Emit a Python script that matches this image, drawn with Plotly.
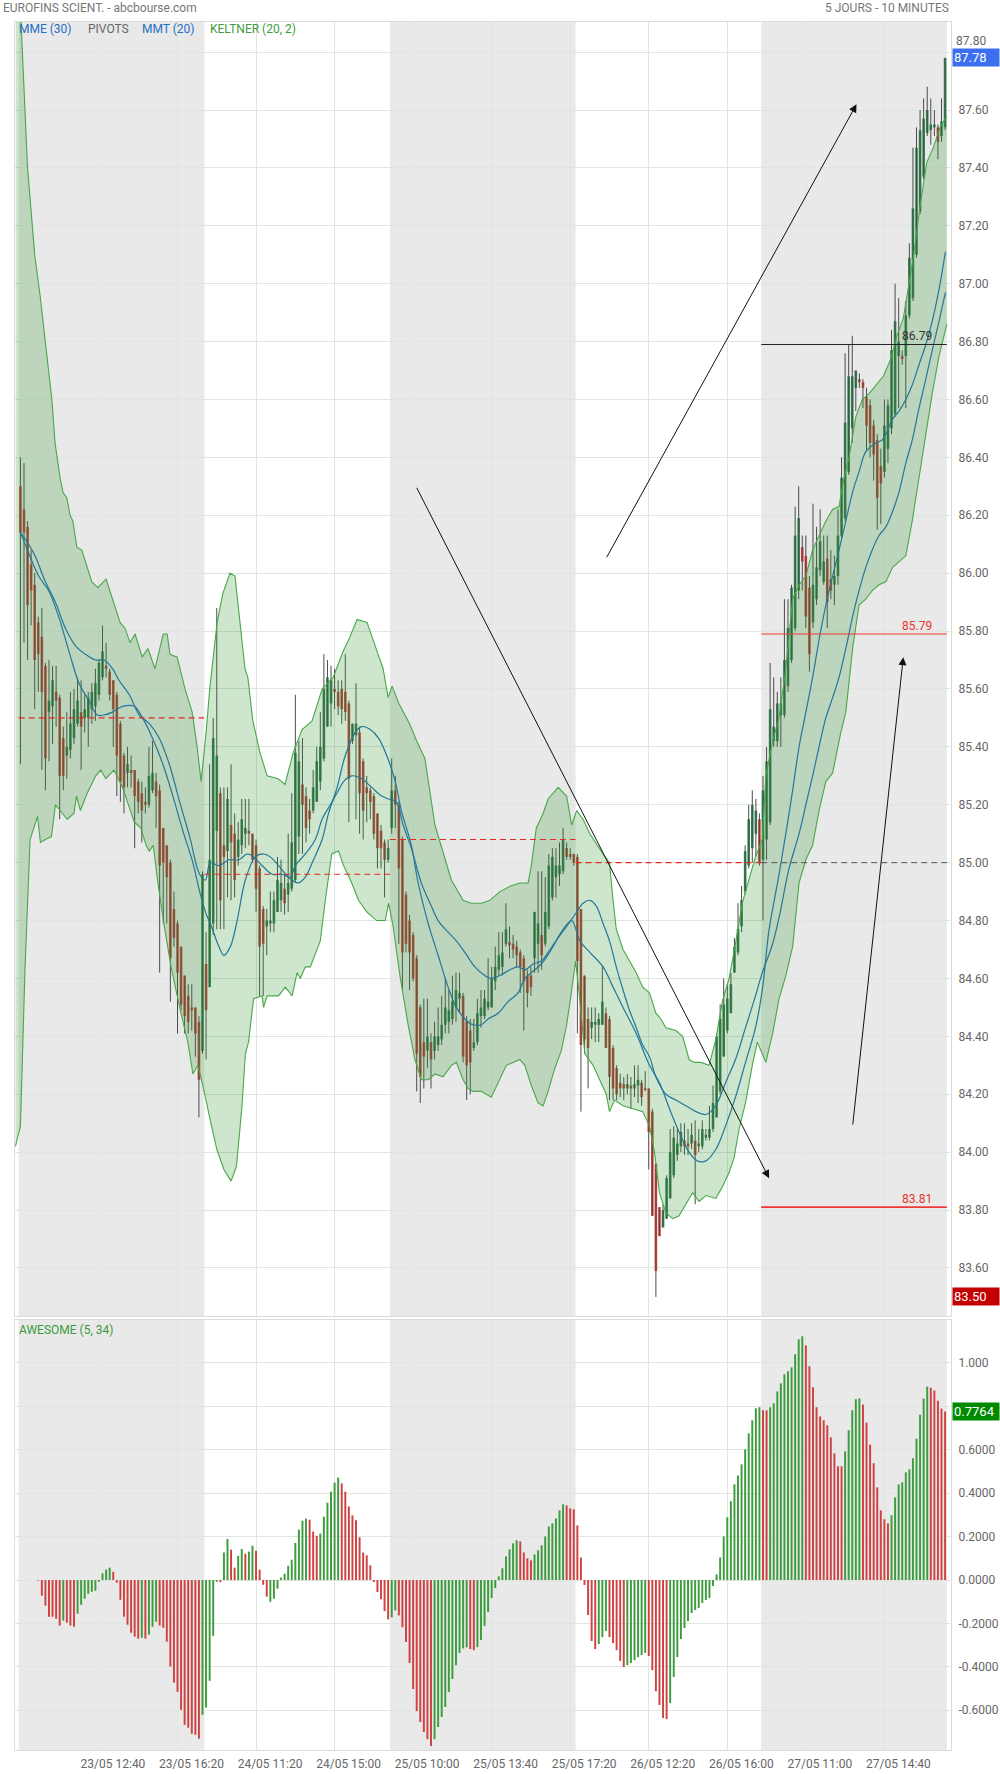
import plotly.graph_objects as go

# ---------------- data ----------------
BARS_PER_DAY = 52
tick_idx = [22, 44, 66, 88, 110, 132, 154, 176, 198, 220, 242]
tick_labels = ["23/05 12:40", "23/05 16:20", "24/05 11:20", "24/05 15:00", "25/05 10:00",
               "25/05 13:40", "25/05 17:20", "26/05 12:20", "26/05 16:00", "27/05 11:00", "27/05 14:40"]

opens = [86.30, 86.22, 86.16, 86.03, 85.96, 85.83, 85.78, 85.68, 85.52, 85.54,
         85.59, 85.57, 85.43, 85.37, 85.39, 85.43, 85.48, 85.52, 85.50, 85.50,
         85.53, 85.54, 85.58, 85.64, 85.68, 85.66, 85.63, 85.58, 85.48, 85.37,
         85.31, 85.32, 85.32, 85.28, 85.24, 85.21, 85.20, 85.25, 85.28, 85.25,
         85.12, 85.06, 85.00, 84.84, 84.79, 84.71, 84.61, 84.54, 84.50, 84.50,
         84.45, 84.35,
         84.65, 84.57, 84.79, 85.11, 85.24, 85.06, 85.04, 85.13, 85.10, 85.02,
         85.06, 85.10, 85.11, 85.10, 85.06, 84.98, 84.84, 84.78, 84.79, 84.79,
         84.83, 84.87, 84.91, 84.89, 84.91, 84.94, 85.09, 85.27, 85.23, 85.18,
         85.18, 85.21, 85.28, 85.36, 85.47, 85.55, 85.60, 85.59, 85.60, 85.59,
         85.55, 85.42, 85.44, 85.45, 85.35, 85.26, 85.25, 85.23, 85.17, 85.11,
         85.07, 85.01,
         85.12, 85.25, 85.20, 85.08, 84.89, 84.80, 84.75, 84.67, 84.50, 84.38,
         84.35, 84.38, 84.35, 84.37, 84.39, 84.44, 84.45, 84.46, 84.50, 84.53,
         84.54, 84.45, 84.42, 84.36, 84.38, 84.47, 84.47, 84.50, 84.50, 84.59,
         84.63, 84.64, 84.72, 84.725, 84.72, 84.71, 84.69, 84.67, 84.61, 84.61,
         84.67, 84.72, 84.75, 84.72, 84.78, 84.88, 84.95, 84.96, 84.97, 85.05,
         85.03, 85.03,
         85.02, 84.84, 84.61, 84.46, 84.43, 84.44, 84.44, 84.44, 84.48, 84.46,
         84.36, 84.29, 84.24, 84.235, 84.22, 84.23, 84.22, 84.23, 84.24, 84.22,
         84.22, 84.14, 83.96, 83.81, 83.74, 83.77, 83.84, 83.92, 83.99, 84.02,
         84.04, 84.03, 84.03, 84.04, 84.02, 84.02, 84.05, 84.05, 84.08, 84.12,
         84.21, 84.33, 84.42, 84.48, 84.62, 84.69, 84.78, 84.90, 84.99, 85.05,
         85.10, 85.15,
         85.01, 85.08, 85.14, 85.42, 85.42, 85.51, 85.51, 85.61, 85.70, 85.81,
         85.94, 86.09, 86.06, 85.95, 85.83, 85.91, 86.01, 85.97, 86.05, 85.98,
         85.96, 85.99, 86.13, 86.19, 86.35, 86.50, 86.64, 86.67, 86.66, 86.61,
         86.58, 86.51, 86.46, 86.37, 86.35, 86.43, 86.50, 86.55, 86.75, 86.75,
         86.75, 86.89, 86.95, 87.10, 87.25, 87.37, 87.52, 87.53, 87.54, 87.54,
         87.51, 87.54]
highs = [86.40, 86.38, 86.18, 86.08, 86.00, 85.85, 85.88, 85.69, 85.70, 85.68,
         85.68, 85.58, 85.47, 85.52, 85.59, 85.60, 85.64, 85.63, 85.58, 85.59,
         85.62, 85.67, 85.70, 85.82, 85.76, 85.67, 85.63, 85.59, 85.49, 85.38,
         85.40, 85.37, 85.32, 85.29, 85.28, 85.26, 85.40, 85.42, 85.31, 85.27,
         85.12, 85.06, 85.01, 84.90, 84.80, 84.71, 84.61, 84.58, 84.58, 84.50,
         84.47, 84.97,
         84.76, 85.34, 85.50, 85.88, 85.26, 85.26, 85.26, 85.34, 85.17, 85.14,
         85.22, 85.22, 85.22, 85.10, 85.08, 84.99, 84.85, 84.84, 84.90, 84.90,
         85.02, 85.01, 84.96, 85.10, 85.24, 85.58, 85.42, 85.43, 85.26, 85.22,
         85.32, 85.40, 85.52, 85.72, 85.70, 85.68, 85.67, 85.63, 85.63, 85.72,
         85.56, 85.48, 85.62, 85.47, 85.36, 85.30, 85.26, 85.24, 85.17, 85.13,
         85.08, 85.08,
         85.36, 85.30, 85.21, 85.09, 84.90, 84.82, 84.76, 84.68, 84.51, 84.53,
         84.53, 84.41, 84.45, 84.50, 84.54, 84.60, 84.56, 84.61, 84.62, 84.62,
         84.55, 84.47, 84.46, 84.46, 84.53, 84.56, 84.56, 84.67, 84.64, 84.71,
         84.76, 84.76, 84.86, 84.78, 84.75, 84.73, 84.70, 84.68, 84.63, 84.64,
         84.83, 84.97, 84.97, 84.95, 85.03, 85.05, 85.05, 85.07, 85.12, 85.07,
         85.05, 85.03,
         85.03, 84.84, 84.61, 84.50, 84.50, 84.50, 84.48, 84.64, 84.50, 84.47,
         84.37, 84.30, 84.27, 84.26, 84.27, 84.26, 84.30, 84.30, 84.25, 84.28,
         84.22, 84.15, 83.96, 83.81, 83.82, 83.92, 84.08, 84.09, 84.08, 84.10,
         84.10, 84.08, 84.10, 84.11, 84.08, 84.11, 84.08, 84.16, 84.23, 84.41,
         84.51, 84.60, 84.58, 84.62, 84.74, 84.86, 84.92, 85.06, 85.20, 85.25,
         85.22, 85.17,
         85.30, 85.40, 85.69, 85.64, 85.59, 85.64, 85.91, 85.91, 85.96, 86.23,
         86.30, 86.13, 86.13, 85.99, 86.24, 86.16, 86.22, 86.13, 86.13, 86.08,
         86.06, 86.22, 86.40, 86.76, 86.79, 86.82, 86.70, 86.69, 86.67, 86.64,
         86.60, 86.53, 86.48, 86.43, 86.60, 86.60, 86.84, 87.00, 86.95, 86.77,
         86.94, 87.14, 87.47, 87.54, 87.60, 87.64, 87.68, 87.64, 87.60, 87.55,
         87.64, 87.78]
lows = [85.34, 85.76, 85.70, 85.82, 85.53, 85.59, 85.32, 85.25, 85.35, 85.41,
        85.47, 85.15, 85.25, 85.29, 85.36, 85.41, 85.47, 85.32, 85.45, 85.40,
        85.48, 85.49, 85.56, 85.63, 85.64, 85.56, 85.40, 85.23, 85.21, 85.17,
        85.26, 85.26, 85.05, 85.17, 85.07, 85.17, 85.19, 85.24, 85.12, 84.62,
        84.79, 84.79, 84.52, 84.71, 84.41, 84.49, 84.41, 84.41, 84.42, 84.33,
        84.12, 84.34,
        84.32, 84.57, 84.75, 84.77, 84.77, 84.77, 84.88, 84.87, 84.88, 84.99,
        85.03, 85.05, 85.06, 85.00, 84.83, 84.54, 84.54, 84.68, 84.76, 84.76,
        84.83, 84.83, 84.82, 84.83, 84.90, 84.93, 85.03, 85.03, 85.07, 85.10,
        85.17, 85.21, 85.25, 85.35, 85.47, 85.47, 85.53, 85.51, 85.48, 85.49,
        85.14, 85.41, 85.15, 85.10, 85.08, 85.14, 85.15, 85.08, 84.98, 84.98,
        84.88, 85.00,
        85.10, 85.12, 84.72, 84.56, 84.69, 84.56, 84.59, 84.21, 84.17, 84.22,
        84.29, 84.22, 84.32, 84.35, 84.37, 84.41, 84.41, 84.44, 84.45, 84.48,
        84.31, 84.18, 84.20, 84.35, 84.37, 84.43, 84.46, 84.49, 84.50, 84.56,
        84.61, 84.61, 84.71, 84.67, 84.67, 84.64, 84.55, 84.42, 84.50, 84.54,
        84.62, 84.62, 84.63, 84.71, 84.77, 84.87, 84.88, 84.92, 84.96, 85.01,
        85.01, 84.99,
        84.41, 84.14, 84.34, 84.22, 84.39, 84.38, 84.38, 84.44, 84.36, 84.18,
        84.18, 84.18, 84.19, 84.18, 84.20, 84.15, 84.19, 84.17, 84.16, 84.21,
        83.94, 83.78, 83.50, 83.71, 83.74, 83.77, 83.84, 83.91, 83.97, 84.00,
        83.99, 83.99, 84.01, 83.82, 84.00, 84.01, 84.04, 84.04, 84.07, 84.12,
        84.20, 84.33, 84.41, 84.48, 84.62, 84.68, 84.76, 84.89, 84.98, 85.00,
        85.02, 84.99,
        84.80, 85.01, 85.13, 85.40, 85.40, 85.40, 85.50, 85.59, 85.69, 85.80,
        85.91, 85.94, 85.81, 85.66, 85.81, 85.89, 85.99, 85.96, 85.81, 85.91,
        85.89, 85.96, 86.12, 86.18, 86.34, 86.45, 86.56, 86.64, 86.57, 86.42,
        86.40, 86.32, 86.15, 86.17, 86.33, 86.38, 86.48, 86.54, 86.57, 86.72,
        86.57, 86.88, 86.94, 87.09, 87.24, 87.36, 87.51, 87.48, 87.51, 87.43,
        87.49, 87.53]
closes = [86.14, 86.14, 85.89, 85.94, 85.70, 85.72, 85.59, 85.36, 85.56, 85.63,
          85.56, 85.30, 85.30, 85.40, 85.48, 85.53, 85.56, 85.47, 85.53, 85.57,
          85.59, 85.62, 85.69, 85.73, 85.67, 85.58, 85.53, 85.37, 85.28, 85.26,
          85.34, 85.31, 85.23, 85.21, 85.18, 85.20, 85.30, 85.31, 85.23, 84.99,
          85.00, 84.95, 84.67, 84.74, 84.62, 84.51, 84.47, 84.45, 84.49, 84.41,
          84.25, 84.96,
          84.49, 85.01, 85.43, 85.37, 84.87, 85.02, 85.22, 85.07, 84.94, 85.08,
          85.15, 85.12, 85.10, 85.01, 84.91, 84.71, 84.72, 84.80, 84.80, 84.87,
          84.94, 84.93, 84.86, 84.93, 85.07, 85.38, 85.35, 85.20, 85.12, 85.15,
          85.26, 85.35, 85.40, 85.60, 85.64, 85.63, 85.59, 85.54, 85.53, 85.52,
          85.29, 85.48, 85.48, 85.24, 85.18, 85.24, 85.21, 85.10, 85.05, 85.05,
          85.01, 85.05,
          85.25, 85.20, 84.98, 84.69, 84.72, 84.69, 84.60, 84.34, 84.26, 84.33,
          84.40, 84.32, 84.40, 84.40, 84.44, 84.50, 84.49, 84.52, 84.56, 84.55,
          84.33, 84.30, 84.31, 84.38, 84.48, 84.50, 84.53, 84.52, 84.60, 84.64,
          84.68, 84.69, 84.77, 84.715, 84.70, 84.68, 84.64, 84.59, 84.55, 84.57,
          84.83, 84.79, 84.68, 84.83, 84.99, 85.02, 84.99, 84.99, 85.08, 85.02,
          85.02, 85.00,
          84.66, 84.37, 84.39, 84.36, 84.45, 84.45, 84.46, 84.52, 84.36, 84.26,
          84.22, 84.20, 84.22, 84.22, 84.235, 84.22, 84.235, 84.25, 84.19, 84.215,
          84.07, 83.78, 83.59, 83.71, 83.80, 83.91, 84.00, 84.05, 84.03, 84.07,
          84.02, 84.02, 84.06, 83.99, 84.03, 84.08, 84.06, 84.08, 84.17, 84.40,
          84.46, 84.51, 84.53, 84.58, 84.71, 84.77, 84.87, 85.04, 85.15, 85.20,
          85.18, 85.00,
          85.25, 85.35, 85.53, 85.47, 85.55, 85.55, 85.70, 85.81, 85.95, 86.13,
          86.19, 86.04, 85.85, 85.72, 85.96, 86.02, 86.11, 86.04, 85.90, 85.94,
          85.99, 86.13, 86.33, 86.52, 86.68, 86.68, 86.70, 86.66, 86.64, 86.51,
          86.45, 86.41, 86.26, 86.31, 86.51, 86.58, 86.77, 86.87, 86.80, 86.74,
          86.89, 87.09, 87.26, 87.47, 87.53, 87.57, 87.60, 87.55, 87.55, 87.49,
          87.56, 87.78]

ao_values = [None, None, None, None, None,
             -0.003, -0.072, -0.118, -0.169, -0.169, -0.178, -0.210, -0.187, -0.197, -0.210,
             -0.215, -0.155, -0.114, -0.086, -0.063, -0.054, -0.049, -0.008, 0.031, 0.048,
             0.057, 0.038, -0.012, -0.091, -0.169, -0.206, -0.243, -0.261, -0.270, -0.266,
             -0.270, -0.252, -0.215, -0.192, -0.210, -0.220, -0.284, -0.399, -0.473, -0.515,
             -0.598, -0.667, -0.680, -0.708, -0.713, -0.731, -0.621, -0.588, -0.464, -0.257,
             -0.008, -0.010, 0.127, 0.189, 0.140, 0.057, 0.112, 0.143, 0.121, 0.131,
             0.158, 0.135, 0.048, -0.022, -0.077, -0.100, -0.086, -0.040, 0.011, 0.029,
             0.066, 0.094, 0.171, 0.232, 0.273, 0.283, 0.278, 0.223, 0.204, 0.214,
             0.292, 0.356, 0.407, 0.449, 0.472,
             0.445, 0.407, 0.339, 0.298, 0.275, 0.197, 0.127, 0.114, 0.068, -0.009,
             -0.055, -0.089, -0.143, -0.181, -0.172, -0.140, -0.163, -0.217, -0.286, -0.382,
             -0.502, -0.604, -0.654, -0.700, -0.733, -0.765, -0.733, -0.677, -0.631, -0.585,
             -0.516, -0.456, -0.392, -0.336, -0.315, -0.310, -0.318, -0.323, -0.309, -0.276,
             -0.212, -0.147, -0.083, -0.037, 0.017, 0.054, 0.109, 0.141, 0.169, 0.183,
             0.178, 0.127, 0.100, 0.091, 0.118, 0.137, 0.160, 0.201, 0.247, 0.261,
             0.284, 0.321, 0.349, 0.344, 0.330, 0.326, 0.252, 0.104, -0.023, -0.161,
             -0.281, -0.318, -0.295, -0.263, -0.235, -0.263, -0.290, -0.323, -0.373, -0.401,
             -0.392, -0.382, -0.369, -0.355, -0.346, -0.336, -0.350, -0.415, -0.512, -0.576,
             -0.636, -0.641, -0.567, -0.447, -0.355, -0.272, -0.221, -0.189, -0.152, -0.138,
             -0.129, -0.106, -0.092, -0.083, -0.028, 0.026, 0.104, 0.201, 0.289, 0.363,
             0.441, 0.482, 0.533, 0.602, 0.676, 0.736, 0.791, 0.796, 0.782, 0.782,
             0.796, 0.814, 0.869, 0.906, 0.948, 0.962, 0.980, 1.040, 1.109, 1.123,
             1.081, 0.985, 0.888, 0.796, 0.754, 0.736, 0.713, 0.657, 0.584, 0.524,
             0.524, 0.593, 0.690, 0.782, 0.833, 0.837, 0.808, 0.725, 0.624, 0.538,
             0.427, 0.321, 0.280, 0.261, 0.298, 0.381, 0.441, 0.450, 0.496, 0.510,
             0.561, 0.651, 0.762, 0.836, 0.891, 0.886, 0.873, 0.826, 0.790, 0.7764]
ao_colors = ("....." + "rrrrrrrgrr" + "rggggggggg" + "grrrrrrrrg" + "rgggrrrrrr" + "rrrrrrgggg"
             + "grggrrggrg" + "grrrrggggg" + "ggggggrrrg" + "ggggg"
             + "rrrrrrrrrr" + "rrrrggrrrr" + "rrrrrrgggg" + "ggggggrrgg" + "gggggggggg"
             + "rrrrgggggg" + "gggrrrrrrr" + "rrgggrrrrr" + "ggggggrrrr" + "rrgggggggg"
             + "gggggggggg" + "ggggggggrr" + "gggggggggg" + "rrrrrrrrrr" + "rgggggrrrr"
             + "rrrrgggggg" + "gggggrrrrr")

kelt_up_x = [-1.3, 0, 2, 4, 5.5, 7, 8.8, 9.7, 11.1, 11.9, 13, 13.9, 14.7, 15.8, 17.2, 20, 21.7, 24, 25.9, 27.9,
             29.3, 30.7, 32.1, 34.1, 35.7, 37.7, 40, 41.1, 41.9, 43.9, 46.1, 48.1, 49.5, 50.6, 52, 53.1, 55.1,
             56.7, 58.7, 60.1, 62.9, 63.7, 65.1, 67.1, 69.1, 72.2, 74.1, 76.4, 78.9, 81.7, 84.5, 87.6, 90.4,
             92.3, 94.3, 97.1, 99.9, 101.6, 103, 104.1, 106, 109, 111, 113.3, 116.1, 118.9, 120.7, 124, 126.3,
             129.1, 131.5, 134.3, 137.5, 139.9, 142.2, 143.1, 144.5, 146.4, 147.8, 150.6, 153, 154.4, 155.8,
             157.6, 159.5, 163.2, 165, 166, 166.9, 168.8, 171.1, 172.5, 174.3, 176.2, 178, 179.4, 180.8, 183.6,
             185.5, 187.3, 188.7, 190.6, 192.9, 194.8, 196.6, 198.5, 200.3, 202.2, 204, 205.9, 207.8, 208.8,
             210.7, 212.5, 214.4, 216.3, 218.1, 220, 221.9, 223.7, 225.6, 227.5, 229.3, 230.7, 232.1, 234,
             235.8, 237.7, 239.6, 241.7, 243.8, 245.5, 247.3, 250.1, 252, 253.9, 255.7, 257.6, 259.5]
kelt_up_y = [88.2, 87.95, 87.40, 87.10, 86.96, 86.80, 86.60, 86.45, 86.33, 86.28, 86.26, 86.20, 86.18, 86.09,
             86.08, 85.97, 85.95, 85.98, 85.91, 85.83, 85.81, 85.76, 85.79, 85.71, 85.74, 85.67, 85.79, 85.79,
             85.72, 85.71, 85.60, 85.52, 85.40, 85.28, 85.45, 85.61, 85.83, 85.93, 86.00, 85.99, 85.67, 85.64,
             85.49, 85.38, 85.30, 85.29, 85.27, 85.38, 85.46, 85.49, 85.60, 85.64, 85.73, 85.78, 85.84, 85.83,
             85.73, 85.67, 85.57, 85.61, 85.55, 85.48, 85.42, 85.36, 85.13, 85.01, 84.94, 84.87, 84.86, 84.86,
             84.87, 84.90, 84.92, 84.93, 84.93, 84.99, 85.12, 85.17, 85.22, 85.26, 85.23, 85.13, 85.18, 85.15,
             85.10, 85.03, 85.00, 84.87, 84.77, 84.70, 84.65, 84.62, 84.57, 84.55, 84.48, 84.46, 84.43, 84.42,
             84.40, 84.32, 84.31, 84.31, 84.30, 84.39, 84.52, 84.60, 84.72, 84.86, 84.94, 85.02, 85.08, 85.30,
             85.42, 85.50, 85.67, 85.91, 85.96, 85.99, 86.08, 86.13, 86.18, 86.22, 86.23, 86.33, 86.40, 86.54,
             86.60, 86.62, 86.65, 86.68, 86.74, 86.82, 86.88, 87.09, 87.27, 87.42, 87.47, 87.54, 87.58]
kelt_lo_x = [-1.4, 0, 1.3, 2.7, 4.8, 5.6, 7, 8.7, 9.8, 11.2, 13.1, 15, 15.7, 16.8, 18.7, 21.1, 22.5, 23.9, 26.2,
             28.6, 30.9, 31.9, 33.7, 35.2, 36.1, 37.2, 38.4, 40.3, 42.2, 44.6, 46.9, 48.3, 49.7, 51.1, 53, 55,
             57, 59, 60.5, 62, 63, 63.9, 65.3, 67.7, 68.1, 69.1, 72.3, 74.2, 76.1, 77, 77.5, 78.4, 79.8, 81.2,
             84, 85.4, 87.2, 89.1, 90.5, 92.8, 94.7, 97, 99.8, 102.2, 103.1, 104.4, 106.3, 108.6, 110.5, 112.3,
             114.2, 116.1, 118.4, 120.7, 122.1, 124, 125.4, 126.8, 129.1, 131.9, 134.3, 136.1, 138, 139.9,
             141.3, 143.1, 145, 146.4, 147.8, 149.7, 151.5, 153, 154.3, 155.5, 156.5, 158.1, 160.4, 162.7,
             164.1, 165, 166.4, 168.8, 171.5, 174.3, 176.2, 177.6, 179, 180.8, 182.7, 184.5, 186.4, 188.3,
             190.1, 192, 194.8, 196.6, 198.5, 199.9, 201.3, 203.1, 205, 206.4, 207.8, 208.8, 210.7, 212.5,
             214.4, 216.3, 218.1, 220, 221.9, 223.7, 225.6, 227.5, 229.8, 231.2, 233.1, 234.9, 236.8, 238.6,
             240.5, 242.4, 244.3, 246.1, 248, 249.8, 251.7, 253.6, 255.4, 257.3, 259.5]
kelt_lo_y = [84.02, 84.09, 84.64, 85.08, 85.16, 85.07, 85.08, 85.09, 85.20, 85.18, 85.15, 85.17, 85.23, 85.18,
             85.24, 85.30, 85.32, 85.29, 85.32, 85.26, 85.18, 85.14, 85.12, 85.06, 85.04, 85.06, 84.94, 84.78,
             84.64, 84.50, 84.38, 84.27, 84.30, 84.23, 84.12, 84.01, 83.94, 83.90, 83.95, 84.15, 84.34, 84.38,
             84.53, 84.54, 84.50, 84.54, 84.54, 84.57, 84.54, 84.60, 84.62, 84.60, 84.64, 84.64, 84.73, 84.87,
             85.03, 85.04, 84.99, 84.93, 84.87, 84.83, 84.80, 84.80, 84.86, 84.78, 84.61, 84.44, 84.32, 84.25,
             84.25, 84.27, 84.26, 84.30, 84.31, 84.25, 84.22, 84.21, 84.21, 84.19, 84.25, 84.30, 84.31, 84.32,
             84.30, 84.23, 84.17, 84.16, 84.21, 84.29, 84.35, 84.44, 84.55, 84.66, 84.55, 84.34, 84.30, 84.24,
             84.20, 84.14, 84.18, 84.16, 84.15, 84.14, 84.09, 84.00, 83.86, 83.79, 83.77, 83.78, 83.82, 83.86,
             83.83, 83.85, 83.84, 83.88, 83.93, 83.98, 84.08, 84.17, 84.30, 84.38, 84.34, 84.31, 84.41, 84.53,
             84.61, 84.71, 84.93, 85.01, 85.06, 85.18, 85.28, 85.31, 85.45, 85.52, 85.74, 85.89, 85.91, 85.94,
             85.96, 85.97, 86.02, 86.04, 86.06, 86.18, 86.33, 86.48, 86.62, 86.75, 86.86]

mmt_x = [0, 2.3, 5.1, 7.9, 10.7, 13.6, 16.4, 19.2, 21.5, 23.4, 25.8, 28.6, 31.9, 34.2, 37, 39.9, 42.7, 45.5,
         48.3, 50.2, 52.1, 53.2, 55.6, 57, 58.8, 60.7, 63, 65.8, 68.1, 70, 72.3, 75.1, 77.9, 79.8, 82.1, 84.5,
         86.3, 88.7, 91, 93.8, 95.6, 98, 100.3, 102.6, 105, 106.7, 109.5, 111.4, 114.2, 117, 119.8, 122.1,
         124.5, 126.8, 129.1, 131, 133.8, 136.6, 139.4, 141.3, 143.1, 145.9, 148.7, 151.5, 154.4, 156.7,
         159.5, 163.2, 166, 168.8, 172.5, 176.2, 179, 181.8, 184.5, 187.3, 189.6, 192, 194.8, 197.5, 200.3,
         203.1, 205.9, 207.8, 209.6, 210.7, 212.5, 214.4, 216.3, 218.1, 220, 221.9, 223.7, 225.6, 227.5,
         229.3, 231.2, 233.1, 234.9, 236.8, 239.6, 241.4, 242.4, 244.2, 246.1, 248, 249.8, 251.7, 253.6,
         255.4, 257.3, 259.1]
mmt_y = [86.14, 86.07, 85.99, 85.94, 85.85, 85.73, 85.62, 85.56, 85.51, 85.51, 85.52, 85.54, 85.54, 85.50,
         85.43, 85.34, 85.23, 85.11, 85.00, 84.90, 84.82, 84.79, 84.71, 84.68, 84.71, 84.80, 84.94, 85.02,
         85.03, 85.02, 84.99, 84.95, 84.93, 84.95, 85.01, 85.08, 85.17, 85.26, 85.37, 85.45, 85.47, 85.46,
         85.43, 85.37, 85.28, 85.18, 85.06, 84.93, 84.79, 84.68, 84.57, 84.50, 84.46, 84.44, 84.44, 84.46,
         84.48, 84.52, 84.55, 84.60, 84.62, 84.65, 84.70, 84.76, 84.80, 84.73, 84.69, 84.64, 84.57, 84.50,
         84.41, 84.30, 84.24, 84.15, 84.07, 84.00, 83.97, 83.97, 84.01, 84.09, 84.19, 84.31, 84.43, 84.56,
         84.76, 84.84, 84.96, 85.10, 85.25, 85.40, 85.52, 85.64, 85.77, 85.89, 85.99, 86.08, 86.18, 86.28,
         86.35, 86.42, 86.45, 86.46, 86.48, 86.53, 86.56, 86.60, 86.65, 86.72, 86.79, 86.87, 86.98, 87.11]
mme_x = [0, 2.3, 4.1, 7, 9.8, 12.6, 15.4, 18.2, 21.1, 23.4, 25.8, 27.6, 30.5, 33.3, 36.1, 38.9, 41.7, 44.6,
         47.4, 50.2, 51.8, 53.2, 55.6, 58.4, 61.2, 63.5, 65.3, 67.7, 70.5, 73.3, 75.6, 77, 79.8, 82.6, 84.5,
         86.8, 89.1, 90.5, 92.8, 95.6, 98.4, 101.2, 103.1, 105.3, 107.2, 109.5, 112.3, 115.1, 117, 119.8,
         122.1, 124.5, 127.3, 130.1, 131.9, 134.3, 137.1, 139.4, 141.3, 143.6, 145.9, 147.8, 150.6, 153,
         155.3, 157.6, 159.5, 161.3, 163.2, 165, 166.9, 168.8, 170.6, 172.5, 174.3, 176.2, 178, 180.8, 183.6,
         186.4, 189.2, 192, 193.4, 195.2, 197.5, 200.3, 203.1, 205.9, 207.8, 209.6, 210.7, 212.5, 215.3,
         218.1, 220, 221.9, 223.7, 225.6, 227.5, 229.3, 231.2, 233.1, 234.9, 236.8, 238.6, 240.5, 242.4,
         244.2, 246.1, 248, 249.8, 251.7, 253.6, 255.4, 257.3, 259.1]
mme_y = [86.14, 86.10, 86.06, 85.97, 85.90, 85.81, 85.75, 85.72, 85.70, 85.70, 85.67, 85.63, 85.58, 85.51,
         85.48, 85.43, 85.34, 85.21, 85.09, 84.96, 84.94, 85.00, 84.99, 85.01, 85.01, 85.03, 85.02, 84.99,
         84.96, 84.96, 84.95, 84.99, 85.03, 85.08, 85.15, 85.20, 85.25, 85.28, 85.30, 85.29, 85.26, 85.23,
         85.22, 85.21, 85.13, 85.05, 84.93, 84.85, 84.80, 84.76, 84.73, 84.69, 84.64, 84.61, 84.60, 84.61,
         84.63, 84.64, 84.63, 84.65, 84.66, 84.69, 84.74, 84.78, 84.82, 84.86, 84.87, 84.85, 84.79, 84.73,
         84.64, 84.56, 84.49, 84.43, 84.37, 84.33, 84.26, 84.20, 84.18, 84.16, 84.14, 84.13, 84.14, 84.17,
         84.24, 84.32, 84.43, 84.54, 84.62, 84.68, 84.72, 84.81, 84.98, 85.10, 85.20, 85.30, 85.40, 85.50,
         85.57, 85.64, 85.74, 85.85, 85.94, 86.02, 86.08, 86.13, 86.16, 86.21, 86.28, 86.38, 86.46, 86.57,
         86.67, 86.77, 86.87, 86.97]

# pivot levels: (day index, value, style)
pivot_days = [0, 1, 2, 3, 4, 4, 4, 4]
pivot_vals = [85.50, 84.96, 85.08, 85.00, 85.00, 86.79, 85.79, 83.81]
pivot_style = ["pp", "pp", "pp", "pp", "pp5", "r1", "s1", "s2"]
labelled_levels = [(86.79, "#333333"), (85.79, "#e8332e"), (83.81, "#e8332e")]

last_price = 87.78
low_price = 83.50
ao_last = 0.7764

# drawn trend arrows: (tail x, tail price, head x, head price)
arrows = [(110.8, 86.30, 209.7, 83.91), (164.0, 86.05, 234.2, 87.62), (233.1, 84.09, 247.3, 85.71)]

# ---------------- figure ----------------
N = len(opens)
idx = list(range(N))
GREEN_C = "#2f8c52"
RED_C = "#e2413a"

wick_x, wick_y = [], []
for i in idx:
    wick_x += [i, i, None]
    wick_y += [lows[i], highs[i], None]
body_base = [min(o, c) for o, c in zip(opens, closes)]
body_h = [max(abs(c - o), 0.006) for o, c in zip(opens, closes)]
body_col = [GREEN_C if c >= o else RED_C for o, c in zip(opens, closes)]

fig = go.Figure()
fig.add_trace(go.Scatter(x=wick_x, y=wick_y, mode="lines", line=dict(color="#4a4a4a", width=1),
                         hoverinfo="skip", xaxis="x", yaxis="y"))
fig.add_trace(go.Bar(x=idx, y=body_h, base=body_base, width=0.74, marker=dict(color=body_col, line=dict(width=0)),
                     hoverinfo="skip", xaxis="x", yaxis="y"))
fig.add_trace(go.Scatter(x=mmt_x, y=mmt_y, mode="lines", line=dict(color="#1c6db8", width=1.2, shape="spline"),
                         hoverinfo="skip", xaxis="x", yaxis="y"))
fig.add_trace(go.Scatter(x=mme_x, y=mme_y, mode="lines", line=dict(color="#1c6db8", width=1.2, shape="spline"),
                         hoverinfo="skip", xaxis="x", yaxis="y"))
fig.add_trace(go.Scatter(x=kelt_up_x, y=kelt_up_y, mode="lines", line=dict(color="#48a848", width=1.1),
                         hoverinfo="skip", xaxis="x", yaxis="y"))
fig.add_trace(go.Scatter(x=kelt_lo_x, y=kelt_lo_y, mode="lines", line=dict(color="#48a848", width=1.1),
                         fill="tonexty", fillcolor="rgba(60,150,60,0.25)", hoverinfo="skip", xaxis="x", yaxis="y"))

ao_x = [i for i in idx if ao_values[i] is not None]
ao_y = [ao_values[i] for i in ao_x]
ao_c = ["#3d9c3d" if ao_colors[i] == "g" else "#d04242" for i in ao_x]
fig.add_trace(go.Bar(x=ao_x, y=ao_y, width=0.55, marker=dict(color=ao_c, line=dict(width=0)),
                     hoverinfo="skip", xaxis="x2", yaxis="y2"))

# ---------------- layout ----------------
L, R, T, B = 15, 49, 22, 24
W, H = 1000, 1774
PW, PH = W - L - R, H - T - B


def px_x(px):
    return (px - L) / PW


def px_y(py):
    return (H - B - py) / PH


XR = [-1.52, 260.66]
GRID = "#dfe6df"
main_dom = [px_y(1316), 1.0]
ao_dom = [0.0, px_y(1320)]

price_ticks = [round(83.6 + 0.2 * k, 2) for k in range(22)]
price_ticktext = [f"{v:.2f}" if v < 87.7 else "" for v in price_ticks]
ao_ticks = [-0.6, -0.4, -0.2, 0.0, 0.2, 0.4, 0.6, 0.8, 1.0]
ao_ticktext = ["-0.6000", "-0.4000", "-0.2000", "0.0000", "0.2000", "0.4000", "0.6000", "", "1.000"]

axis_common = dict(showgrid=True, gridcolor=GRID, gridwidth=1, zeroline=False, showline=True,
                   linecolor="#dcdcdc", mirror=True, automargin=False)

fig.update_layout(
    width=W, height=H, margin=dict(l=L, r=R, t=T, b=B, autoexpand=False),
    paper_bgcolor="white", plot_bgcolor="white", showlegend=False, barmode="overlay",
    font=dict(family="Roboto, Arial, sans-serif", size=12, color="#666666"),
    xaxis=dict(domain=[0, 1], anchor="y", range=XR, tickvals=tick_idx, showticklabels=False, ticks="",
               **axis_common),
    xaxis2=dict(domain=[0, 1], anchor="y2", range=XR, tickvals=tick_idx, ticktext=tick_labels,
                ticks="outside", ticklen=3, tickcolor="rgba(0,0,0,0)", ticklabelshift=14,
                tickfont=dict(size=12, color="#666666"), **axis_common),
    yaxis=dict(domain=main_dom, anchor="x", range=[83.434, 87.904], side="right", tickvals=price_ticks,
               ticktext=price_ticktext, ticks="outside", ticklen=4,
               tickcolor="rgba(0,0,0,0)", tickfont=dict(size=12, color="#666666"), **axis_common),
    yaxis2=dict(domain=ao_dom, anchor="x2", range=[-0.783, 1.198], side="right", tickvals=ao_ticks,
                ticktext=ao_ticktext, ticks="outside", ticklen=4, tickcolor="rgba(0,0,0,0)",
                tickfont=dict(size=12, color="#666666"), **axis_common),
)

shapes = []
# grey background for alternate days
for d in range(0, 5, 2):
    x0 = d * BARS_PER_DAY - 0.5
    x1 = min(d * BARS_PER_DAY + BARS_PER_DAY - 0.5, N - 0.5)
    for xr, yr in (("x", "y domain"), ("x2", "y2 domain")):
        shapes.append(dict(type="rect", xref=xr, yref=yr, x0=x0, x1=x1, y0=0, y1=1,
                           fillcolor="#e9e9e9", line=dict(width=0), layer="below"))
# pivot lines
for d, v, s in zip(pivot_days, pivot_vals, pivot_style):
    x0 = d * BARS_PER_DAY - 0.5
    x1 = min(d * BARS_PER_DAY + BARS_PER_DAY - 0.5, N + 0.3)
    if s == "pp":
        ln = dict(color="#e32b22", width=1.2, dash="6px,4px")
    elif s == "pp5":
        ln = dict(color="#555555", width=1, dash="6px,4px")
    elif s == "r1":
        ln = dict(color="#222222", width=1)
    elif s == "s1":
        ln = dict(color="#ec3b36", width=1)
    else:
        ln = dict(color="#ec3b36", width=1.6)
    shapes.append(dict(type="line", xref="x", yref="y", x0=x0, x1=x1, y0=v, y1=v, line=ln, layer="above"))
fig.update_layout(shapes=shapes)

ann = []
ann.append(dict(xref="paper", yref="paper", x=px_x(1), y=px_y(8), xanchor="left", yanchor="middle",
                text="EUROFINS SCIENT. - abcbourse.com", showarrow=False, font=dict(size=12, color="#777777")))
ann.append(dict(xref="paper", yref="paper", x=px_x(951), y=px_y(8), xanchor="right", yanchor="middle",
                text="5 JOURS - 10 MINUTES", showarrow=False, font=dict(size=12, color="#777777")))
for txt, xpx, col in (("MME (30)", 17, "#1f6fc6"), ("PIVOTS", 86, "#666666"),
                      ("MMT (20)", 140, "#1f6fc6"), ("KELTNER (20, 2)", 208, "#3b9b3b")):
    ann.append(dict(xref="paper", yref="paper", x=px_x(xpx), y=px_y(29), xanchor="left", yanchor="middle",
                    text=txt, showarrow=False, font=dict(size=12, color=col)))
ann.append(dict(xref="paper", yref="paper", x=px_x(17), y=px_y(1330), xanchor="left", yanchor="middle",
                text="AWESOME (5, 34)", showarrow=False, font=dict(size=12, color="#3b9b3b")))
# top price-scale label, pushed up above the last-price box
ann.append(dict(xref="paper", yref="paper", x=px_x(954), y=px_y(50), xanchor="left", yanchor="bottom",
                text=f"{price_ticks[-1]:.2f}", showarrow=False, font=dict(size=12, color="#666666")))
for v, col in labelled_levels:
    ann.append(dict(xref="paper", yref="y", x=px_x(934), y=v, xanchor="right", yanchor="bottom",
                    text=f"{v:.2f}", showarrow=False, font=dict(size=12, color=col), yshift=-1))
for val, yref, bg, txt in ((last_price, "y", "#3b6ff0", f"{last_price:.2f}"),
                           (low_price, "y", "#c40000", f"{low_price:.2f}"),
                           (ao_last, "y2", "#008a00", f"{ao_last:.4f}")):
    ann.append(dict(xref="paper", yref=yref, x=px_x(952), y=val, xanchor="left", yanchor="middle",
                    text=txt, showarrow=False, bgcolor=bg, font=dict(size=13, color="white"),
                    width=44, height=15, align="left", borderpad=1))
for (tx, ty, hx, hy) in arrows:
    ann.append(dict(xref="x", yref="y", x=hx, y=hy, axref="x", ayref="y", ax=tx, ay=ty, text="",
                    showarrow=True, arrowhead=2, arrowsize=1.6, arrowwidth=1, arrowcolor="#111111",
                    standoff=0, startstandoff=0))
fig.update_layout(annotations=ann)

# the page body has a default 8px margin; remove it so the 1000x1774 figure fills the window exactly
fig.write_html("out.html", config={"displayModeBar": False, "staticPlot": True},
               post_script="document.body.style.margin='0px';document.body.style.overflow='hidden';")
